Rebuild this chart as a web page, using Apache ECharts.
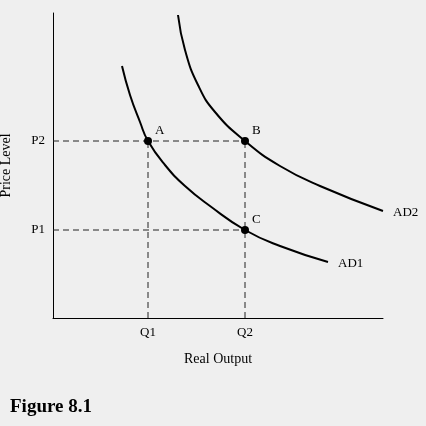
<!DOCTYPE html><html><head><meta charset="utf-8"><script src="https://cdn.jsdelivr.net/npm/echarts@6/dist/echarts.min.js"></script>
<style>body{margin:0;background:#efefef}#c{width:426px;height:426px}</style></head><body><div id="c"></div><script>
const ad1 = [[69,252],[77,223],[87,196],[95,177],[112,153],[132,132],[157,112],[192,88],[227,72],[275,56]];
const ad2 = [[125,303],[132,268],[145,233],[162,206],[192,177],[227,152],[267,132],[330,107]];
const points = [{name:'A',value:[95,177]},{name:'B',value:[192,177]},{name:'C',value:[192,88]}];
const xTicks = [95,192], xTickLabels = ['Q1','Q2'];
const yTicks = [88,177], yTickLabels = ['P1','P2'];
const F = 'Liberation Serif';
const dash = {color:'#222',width:1,type:[6,4]};
const ch = echarts.init(document.getElementById('c'));
ch.setOption({
 backgroundColor:'#efefef', animation:false,
 grid:{left:53,top:13,width:330,height:305,containLabel:false,outerBoundsMode:'none'},
 xAxis:{type:'value',min:0,max:330,splitLine:{show:false},axisLine:{lineStyle:{color:'#000'}},axisTick:{show:false},
  axisLabel:{customValues:xTicks,formatter:v=>xTickLabels[xTicks.indexOf(v)],color:'#000',fontFamily:F,fontSize:13,margin:8},
  name:'Real Output',nameLocation:'middle',nameGap:34,nameTextStyle:{color:'#000',fontFamily:F,fontSize:14}},
 yAxis:{type:'value',min:0,max:305,splitLine:{show:false},axisLine:{show:true,lineStyle:{color:'#000'}},axisTick:{show:false},
  axisLabel:{customValues:yTicks,formatter:v=>yTickLabels[yTicks.indexOf(v)],color:'#000',fontFamily:F,fontSize:13,margin:8},
  name:'Price Level',nameLocation:'middle',nameGap:40,nameTextStyle:{color:'#000',fontFamily:F,fontSize:14}},
 graphic:[{type:'text',left:10,top:398,style:{text:'Figure 8.1',font:'bold 19px "Liberation Serif"',fill:'#000'}}],
 series:[
  {type:'line',data:[[0,177],[192,177]],symbol:'none',lineStyle:dash},
  {type:'line',data:[[0,88],[192,88]],symbol:'none',lineStyle:dash},
  {type:'line',data:[[95,0],[95,177]],symbol:'none',lineStyle:dash},
  {type:'line',data:[[192,0],[192,177]],symbol:'none',lineStyle:dash},
  {type:'line',data:ad1,smooth:0.5,symbol:'none',lineStyle:{color:'#000',width:2},
   endLabel:{show:true,formatter:'AD1',fontFamily:F,fontSize:13,color:'#000',offset:[2,2]}},
  {type:'line',data:ad2,smooth:0.5,symbol:'none',lineStyle:{color:'#000',width:2},
   endLabel:{show:true,formatter:'AD2',fontFamily:F,fontSize:13,color:'#000',offset:[2,2]}},
  {type:'scatter',data:points,symbolSize:8,itemStyle:{color:'#000',opacity:1},z:5,
   label:{show:true,formatter:'{b}',position:'right',offset:[-2,-10],fontFamily:F,fontSize:13,color:'#000'}}
 ]
});
</script></body></html>
